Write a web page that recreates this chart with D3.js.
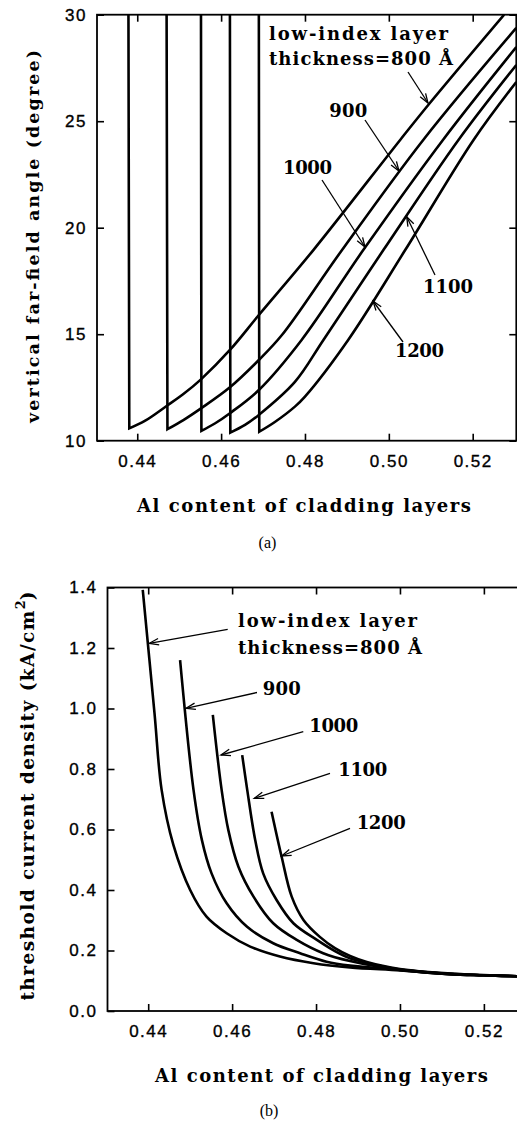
<!DOCTYPE html>
<html><head><meta charset="utf-8">
<script src="https://cdn.jsdelivr.net/npm/d3@7/dist/d3.min.js"></script>
<style>html,body{margin:0;padding:0;background:#fff;}svg{display:block;}</style>
</head><body>
<svg id="chart" width="517" height="1121"></svg>
<script>
// ---------------- data ----------------
const thicknessLabels = ["800", "900", "1000", "1100", "1200"];
const alTicks = [0.44, 0.46, 0.48, 0.50, 0.52];
const angleTicks = [10, 15, 20, 25, 30];
const jthTicks = [0.0, 0.2, 0.4, 0.6, 0.8, 1.0, 1.2, 1.4];

// (a) vertical far-field angle (degree) vs Al content of cladding layers
const angle800  = [[0.4379,30],[0.4381,10.58],[0.4419,10.94],[0.4470,11.63],[0.4510,12.19],[0.4552,12.88],[0.4621,14.26],[0.4690,15.90],[0.4820,18.95],[0.5027,24.12],[0.5094,25.76],[0.5275,30]];
const angle900  = [[0.4470,30],[0.4472,10.54],[0.4510,10.97],[0.4552,11.52],[0.4621,12.51],[0.4690,13.79],[0.4745,14.96],[0.4885,18.86],[0.5082,24.12],[0.5304,29.38]];
const angle1000 = [[0.4552,30],[0.4553,10.46],[0.4586,10.82],[0.4621,11.29],[0.4690,12.38],[0.4792,14.73],[0.4939,18.95],[0.5129,24.12],[0.5304,28.48]];
const angle1100 = [[0.4621,30],[0.4622,10.38],[0.4657,10.74],[0.4690,11.21],[0.4776,12.76],[0.4844,14.73],[0.4987,18.95],[0.5166,24.12],[0.5304,27.64]];
const angle1200 = [[0.4690,30],[0.4691,10.42],[0.4729,10.89],[0.4776,11.60],[0.4800,12.07],[0.4903,14.73],[0.5039,18.95],[0.5202,24.12],[0.5304,26.84]];

// (b) threshold current density (kA/cm^2) vs Al content of cladding layers
const jth800  = [[0.4387,1.392],[0.4415,0.985],[0.4432,0.731],[0.4460,0.549],[0.4500,0.400],[0.4539,0.312],[0.4587,0.257],[0.4643,0.213],[0.4714,0.180],[0.4794,0.158],[0.4881,0.144],[0.5000,0.134],[0.5119,0.122],[0.5199,0.118],[0.5303,0.114]];
const jth900  = [[0.4476,1.160],[0.4508,0.731],[0.4528,0.565],[0.4551,0.455],[0.4587,0.356],[0.4635,0.279],[0.4698,0.224],[0.4762,0.191],[0.4825,0.163],[0.4881,0.150],[0.5000,0.136],[0.5119,0.122],[0.5199,0.118],[0.5303,0.114]];
const jth1000 = [[0.4554,0.979],[0.4575,0.731],[0.4591,0.598],[0.4615,0.477],[0.4651,0.378],[0.4698,0.290],[0.4754,0.235],[0.4817,0.191],[0.4881,0.165],[0.5000,0.136],[0.5119,0.122],[0.5199,0.118],[0.5303,0.114]];
const jth1100 = [[0.4624,0.846],[0.4636,0.731],[0.4655,0.565],[0.4674,0.455],[0.4706,0.367],[0.4746,0.290],[0.4802,0.235],[0.4845,0.198],[0.4881,0.174],[0.4921,0.159],[0.5000,0.137],[0.5119,0.123],[0.5199,0.118],[0.5303,0.114]];
const jth1200 = [[0.4694,0.659],[0.4718,0.510],[0.4742,0.378],[0.4770,0.301],[0.4809,0.245],[0.4845,0.208],[0.4881,0.182],[0.4921,0.162],[0.5000,0.139],[0.5119,0.124],[0.5199,0.119],[0.5303,0.114]];

// ---------------- drawing ----------------
const svg = d3.select("#chart");
const typeFont = "'DejaVu Serif','Liberation Serif',serif";
const sans = "'Liberation Sans',Arial,sans-serif";
const serif = "'Liberation Serif','Times New Roman',serif";

function styleType(sel, size) {
  return sel.attr("font-family", typeFont).attr("font-size", size)
    .attr("font-weight", "bold").attr("fill", "#000");
}

function arrow(g, x1, y1, x2, y2) {
  const a = Math.atan2(y2 - y1, x2 - x1), L = 10, w = 0.33;
  g.append("line").attr("x1", x1).attr("y1", y1).attr("x2", x2).attr("y2", y2);
  g.append("path").attr("d",
    `M${x2 - L*Math.cos(a - w)},${y2 - L*Math.sin(a - w)}L${x2},${y2}L${x2 - L*Math.cos(a + w)},${y2 - L*Math.sin(a + w)}`)
    .attr("fill", "none");
}

function panel(o) {
  const g = svg.append("g");
  const [x0, x1] = o.x.range();
  const [yb, yt] = o.y.range();
  const clipId = "clip-" + o.name;
  svg.append("defs").append("clipPath").attr("id", clipId)
    .append("rect").attr("x", x0).attr("y", yt).attr("width", x1 - x0).attr("height", yb - yt);

  const lineLin = d3.line().x(d => o.x(d[0])).y(d => o.y(d[1]));
  const lineSmooth = d3.line().x(d => o.x(d[0])).y(d => o.y(d[1])).curve(d3.curveCatmullRom.alpha(0.5));

  const cg = g.append("g").attr("clip-path", `url(#${clipId})`);
  o.series.forEach(s => {
    let d;
    if (o.verticalStart) d = lineLin(s.slice(0, 2)) + lineSmooth(s.slice(1)).replace(/^M/, "L");
    else d = lineSmooth(s);
    cg.append("path").attr("d", d).attr("fill", "none").attr("stroke", "#000")
      .attr("stroke-width", 2.6).attr("stroke-linejoin", "miter");
  });

  const styleAxis = sel => {
    sel.select(".domain").remove();
    sel.selectAll(".tick line").attr("stroke", "#000").attr("stroke-width", 1.6);
    sel.selectAll(".tick text").attr("font-family", sans).attr("font-size", 17)
      .attr("letter-spacing", 1.5).attr("fill", "#000").attr("stroke", "#000").attr("stroke-width", 0.35);
  };
  g.append("g").attr("transform", `translate(0,${yb})`)
    .call(d3.axisBottom(o.x).tickValues(alTicks).tickFormat(d3.format(".2f"))
      .tickSizeInner(-7).tickSizeOuter(0).tickPadding(14)).call(styleAxis);
  g.append("g").attr("transform", `translate(0,${yt})`)
    .call(d3.axisTop(o.x).tickValues(alTicks).tickFormat("").tickSizeInner(-7).tickSizeOuter(0)).call(styleAxis);
  g.append("g").attr("transform", `translate(${x0},0)`)
    .call(d3.axisLeft(o.y).tickValues(o.yTicks).tickFormat(o.yFormat)
      .tickSizeInner(-7).tickSizeOuter(0).tickPadding(10)).call(styleAxis);
  g.append("g").attr("transform", `translate(${x1},0)`)
    .call(d3.axisRight(o.y).tickValues(o.yTicks).tickFormat("").tickSizeInner(-7).tickSizeOuter(0)).call(styleAxis);

  g.append("rect").attr("x", x0).attr("y", yt).attr("width", x1 - x0).attr("height", yb - yt)
    .attr("fill", "none").attr("stroke", "#000").attr("stroke-width", 1.8);

  // axis titles
  styleType(g.append("text"), 18).attr("x", o.xTitlePos[0]).attr("y", o.xTitlePos[1])
    .attr("text-anchor", "middle").attr("textLength", o.xTitleLen).attr("lengthAdjust", "spacing")
    .text("Al content of cladding layers");
  const ytx = styleType(g.append("text"), o.yTitleSize)
    .attr("transform", `translate(${o.yTitlePos[0]},${o.yTitlePos[1]}) rotate(-90)`)
    .attr("text-anchor", "middle");
  o.yTitle(ytx);

  // panel letter
  g.append("text").attr("x", o.letterPos[0]).attr("y", o.letterPos[1]).attr("text-anchor", "middle")
    .attr("font-family", serif).attr("font-size", 16).text(o.letter);

  // annotations
  const ag = g.append("g").attr("stroke", "#000").attr("stroke-width", 1.3);
  o.arrows.forEach(a => arrow(ag, a[0], a[1], a[2], a[3]));
  o.labels.forEach(l => {
    styleType(g.append("text"), 18).attr("x", l[1]).attr("y", l[2])
      .attr("textLength", l[3]).attr("lengthAdjust", "spacing").text(l[0]);
  });
}

const xA = d3.scaleLinear().domain([0.4304, 0.5304]).range([97, 516.3]);
const yA = d3.scaleLinear().domain([10, 30]).range([440.7, 14.7]);
const xB = d3.scaleLinear().domain([0.4303, 0.5303]).range([107.5, 527.1]);
const yB = d3.scaleLinear().domain([0, 1.4]).range([1011, 587.5]);

panel({
  name: "a", x: xA, y: yA, verticalStart: true,
  series: [angle800, angle900, angle1000, angle1100, angle1200],
  yTicks: angleTicks, yFormat: d3.format("d"),
  xTitlePos: [304, 511.5], xTitleLen: 334,
  yTitlePos: [38.5, 236.5], yTitleSize: 17.5,
  yTitle: t => t.attr("textLength", 373).attr("lengthAdjust", "spacing").text("vertical far-field angle (degree)"),
  letter: "(a)", letterPos: [267.5, 548],
  labels: [["low-index layer", 269, 39.5, 179], ["thickness=800 Å", 269, 65, 184],
           [thicknessLabels[1], 329.3, 116.7, 38], [thicknessLabels[2], 283, 174, 49],
           [thicknessLabels[3], 423, 293, 50], [thicknessLabels[4], 395, 357, 49]],
  arrows: [[408, 72, 428, 103], [365, 120, 399, 171], [322, 180, 365, 247],
           [435, 275, 406.7, 216.7], [403, 342, 373, 301]]
});

panel({
  name: "b", x: xB, y: yB, verticalStart: false,
  series: [jth800, jth900, jth1000, jth1100, jth1200],
  yTicks: jthTicks, yFormat: d3.format(".1f"),
  xTitlePos: [321.5, 1081.5], xTitleLen: 333,
  yTitlePos: [34, 796], yTitleSize: 18.5,
  yTitle: t => {
    t.append("tspan").attr("textLength", 390).attr("lengthAdjust", "spacing").text("threshold current density (kA/cm");
    t.append("tspan").attr("dy", -9).attr("font-size", 13).text("2");
    t.append("tspan").attr("dy", 9).text(")");
  },
  letter: "(b)", letterPos: [269, 1115.5],
  labels: [["low-index layer", 238, 627, 179], ["thickness=800 Å", 238, 654, 184],
           [thicknessLabels[1], 262.7, 694.5, 38], [thicknessLabels[2], 309.3, 731.5, 49],
           [thicknessLabels[3], 338.3, 776, 49], [thicknessLabels[4], 356.7, 829, 49]],
  arrows: [[227.7, 629.3, 149.3, 643.3], [257, 692.5, 186, 708.3], [303.3, 731.7, 221, 755],
           [330, 773.3, 254.3, 798.3], [350, 828.3, 281.7, 856]]
});
</script>
</body></html>
